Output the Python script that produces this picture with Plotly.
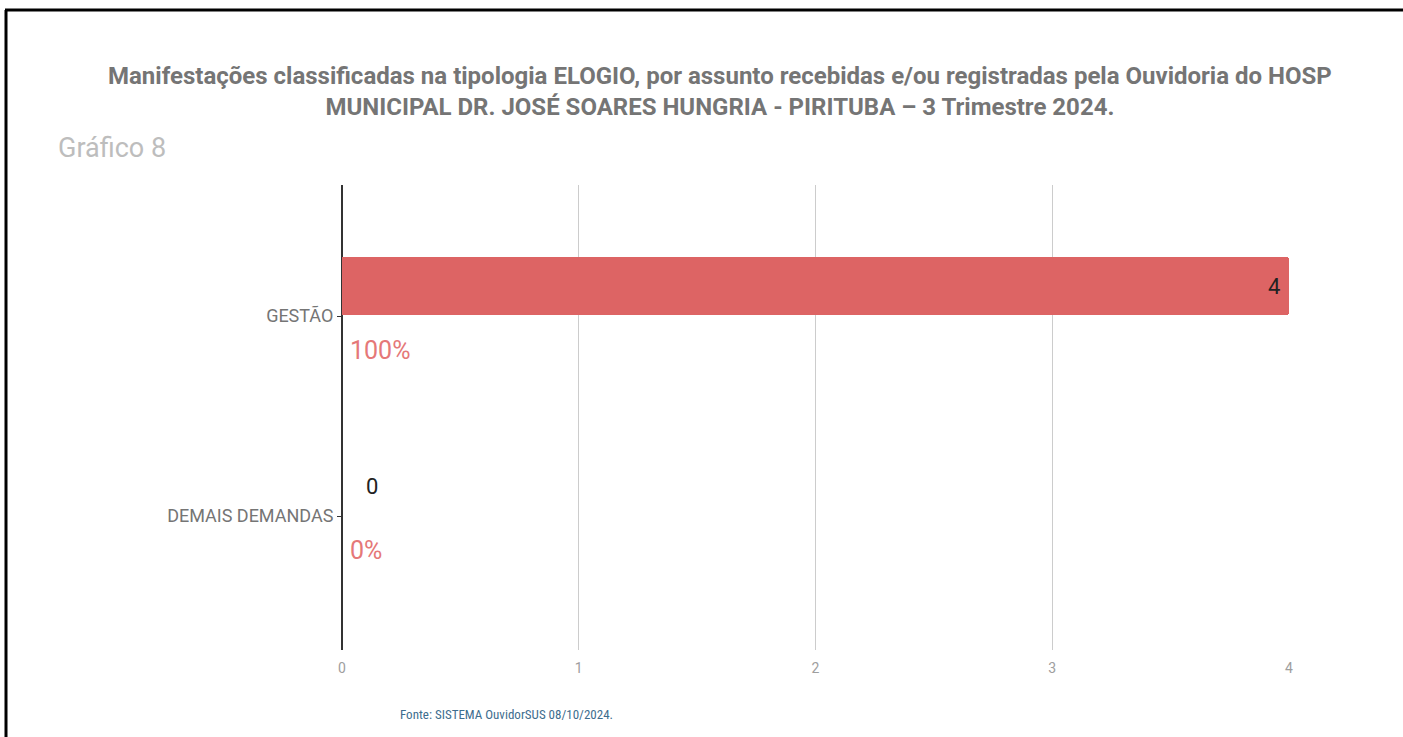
import plotly.graph_objects as go

categories = ["GESTÃO", "DEMAIS DEMANDAS"]
values = [4, 0]
x_ticks = [0, 1, 2, 3, 4]

title_text = ("Manifestações classificadas na tipologia ELOGIO, por assunto recebidas e/ou registradas pela Ouvidoria do HOSP<br>"
              "MUNICIPAL DR. JOSÉ SOARES HUNGRIA - PIRITUBA – 3 Trimestre 2024.")
subtitle_text = "Gráfico 8"
source_text = "Fonte: SISTEMA OuvidorSUS 08/10/2024."

total = sum(values)
percents = [f"{round(v / total * 100)}%" if total else "0%" for v in values]
positions = list(range(len(categories)))

BAR = "#dd6464"
PCT = "#e57878"
ROB = "Roboto, sans-serif"
COND = "Liberation Sans Narrow, Roboto Condensed, Roboto, Arial Narrow, sans-serif"

W, H = 1403, 737
L, R, T, B = 342, 114, 185, 87
PW, PH = W - L - R, H - T - B

def px(xp):
    return (xp - L) / PW

def py(yp):
    return (H - B - yp) / PH

fig = go.Figure()
fig.add_trace(go.Bar(
    x=values, y=positions, orientation="h",
    width=0.29, offset=-0.295,
    marker=dict(color=BAR, cornerradius=3, line=dict(width=0)),
    hoverinfo="x+y", showlegend=False,
))

annotations = []
for p, v, pc in zip(positions, values, percents):
    if v > 0:
        annotations.append(dict(x=v, y=p - 0.15, xref="x", yref="y", text=str(v),
                                xanchor="right", yanchor="middle", xshift=-7, showarrow=False,
                                font=dict(family=ROB, size=22, color="#222222")))
    else:
        annotations.append(dict(x=v, y=p - 0.15, xref="x", yref="y", text=str(v),
                                xanchor="left", yanchor="middle", xshift=22, showarrow=False,
                                font=dict(family=ROB, size=22, color="#222222")))
    annotations.append(dict(x=0, y=p + 0.17, xref="x", yref="y", text=pc,
                            xanchor="left", yanchor="middle", xshift=6, showarrow=False,
                            font=dict(family=ROB, size=25, color=PCT)))

annotations.append(dict(x=px(720), y=py(91), xref="paper", yref="paper", text=title_text,
                        xanchor="center", yanchor="middle", showarrow=False, align="center",
                        font=dict(family=ROB, size=24, color="#757575", weight="bold")))
annotations.append(dict(x=px(56), y=py(148), xref="paper", yref="paper", text=subtitle_text,
                        xanchor="left", yanchor="middle", showarrow=False,
                        font=dict(family=ROB, size=27, color="#bdbdbd")))
annotations.append(dict(x=px(398), y=py(714), xref="paper", yref="paper", text=source_text,
                        xanchor="left", yanchor="middle", showarrow=False,
                        font=dict(family=COND, size=13, color="#3d6d8e")))

shapes = [
    dict(type="line", xref="paper", yref="paper", x0=px(5), x1=px(W + 5), y0=py(10), y1=py(10),
         line=dict(color="black", width=3)),
    dict(type="line", xref="paper", yref="paper", x0=px(6), x1=px(6), y0=py(10), y1=py(H + 5),
         line=dict(color="black", width=3)),
]

fig.update_layout(
    width=W, height=H,
    margin=dict(l=L, r=R, t=T, b=B),
    paper_bgcolor="white", plot_bgcolor="white",
    annotations=annotations, shapes=shapes,
    xaxis=dict(range=[0, 4], tickvals=x_ticks, ticktext=[str(t) for t in x_ticks],
               showgrid=True, gridcolor="#cccccc", gridwidth=1,
               zeroline=True, zerolinecolor="#333333", zerolinewidth=2,
               showline=False, ticks="", ticklen=0, ticklabelstandoff=8,
               tickfont=dict(family=ROB, size=14, color="#9e9e9e")),
    yaxis=dict(range=[1 + 134 / 200, -131 / 200], tickvals=positions, ticktext=categories,
               showgrid=False, zeroline=False, showline=False,
               ticks="outside", ticklen=4, tickcolor="#333333", tickwidth=1,
               tickfont=dict(family=ROB, size=18, color="#757575")),
    bargap=0,
)

fig.write_html("out.html", config={"displayModeBar": False},
               post_script="document.body.style.margin='0px';document.body.style.overflow='hidden';document.documentElement.style.overflow='hidden';")
